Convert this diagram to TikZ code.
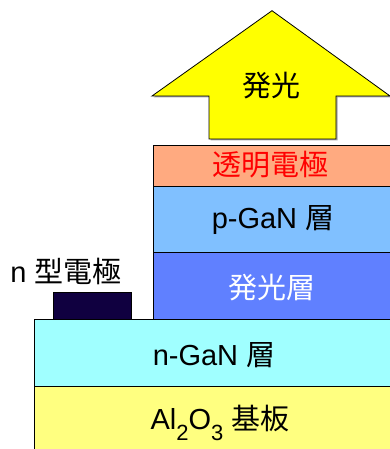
\documentclass[tikz,border=0pt]{standalone}
\usepackage{fontspec}
\setmainfont{Liberation Sans}
\newfontfamily\cjk{Noto Sans CJK JP}
\definecolor{arrowyel}{HTML}{FFFF00}
\definecolor{salmon}{HTML}{FFAA80}
\definecolor{pgan}{HTML}{80C0FF}
\definecolor{active}{HTML}{6080FF}
\definecolor{ngan}{HTML}{A0FFFF}
\definecolor{subst}{HTML}{FFFF80}
\definecolor{elec}{HTML}{100040}
\tikzset{
  layer/.style={draw=black, line width=0.9pt},
  lbl/.style={font=\fontsize{29}{30}\selectfont, inner sep=0pt},
}
\newcommand{\sbs}[1]{\raisebox{-0.38em}{\fontsize{22}{22}\selectfont #1}}
\begin{document}
\begin{tikzpicture}[x=1pt,y=-1pt]
\useasboundingbox (0,0) rectangle (390,449);
\clip (0,0) rectangle (390,449);
\fill[white] (0,0) rectangle (390,449);
% substrate and n-GaN
\filldraw[layer, fill=subst] (34,386) rectangle (395,455);
\filldraw[layer, fill=ngan] (34,319) rectangle (395,386);
% n electrode
\filldraw[layer, fill=elec] (53,292) rectangle (131,319);
% mesa
\filldraw[layer, fill=active] (153,252) rectangle (395,319);
\filldraw[layer, fill=pgan] (153,186) rectangle (395,252);
\filldraw[layer, fill=salmon] (153,145) rectangle (395,186);
% arrow with shadow
\fill[gray!70] (273.5,12.2) -- (392,97.5) -- (337.5,97.5) -- (337.5,140.5) -- (210.5,140.5) -- (210.5,97.5) -- (153.5,97.5) -- cycle;
\filldraw[draw=black, line width=0.8pt, fill=arrowyel] (272,10.7) -- (390,96) -- (336,96) -- (336,139) -- (209,139) -- (209,96) -- (152,96) -- cycle;
% labels
\node[lbl] (light) at (271,86) {\cjk 発光};
\node[lbl, text=red] (tco) at (270,165) {\cjk 透明電極};
\node[lbl] (pgn) at (273,220) {p-GaN {\cjk 層}};
\node[lbl, text=white] (act) at (272,288) {\cjk 発光層};
\node[lbl] (ngn) at (214,355) {n-GaN {\cjk 層}};
\node[lbl] (sub) at (220,423) {Al\sbs{2}O\sbs{3} {\cjk 基板}};
\node[lbl] (nel) at (66,271) {n {\cjk 型電極}};
\end{tikzpicture}
\end{document}
